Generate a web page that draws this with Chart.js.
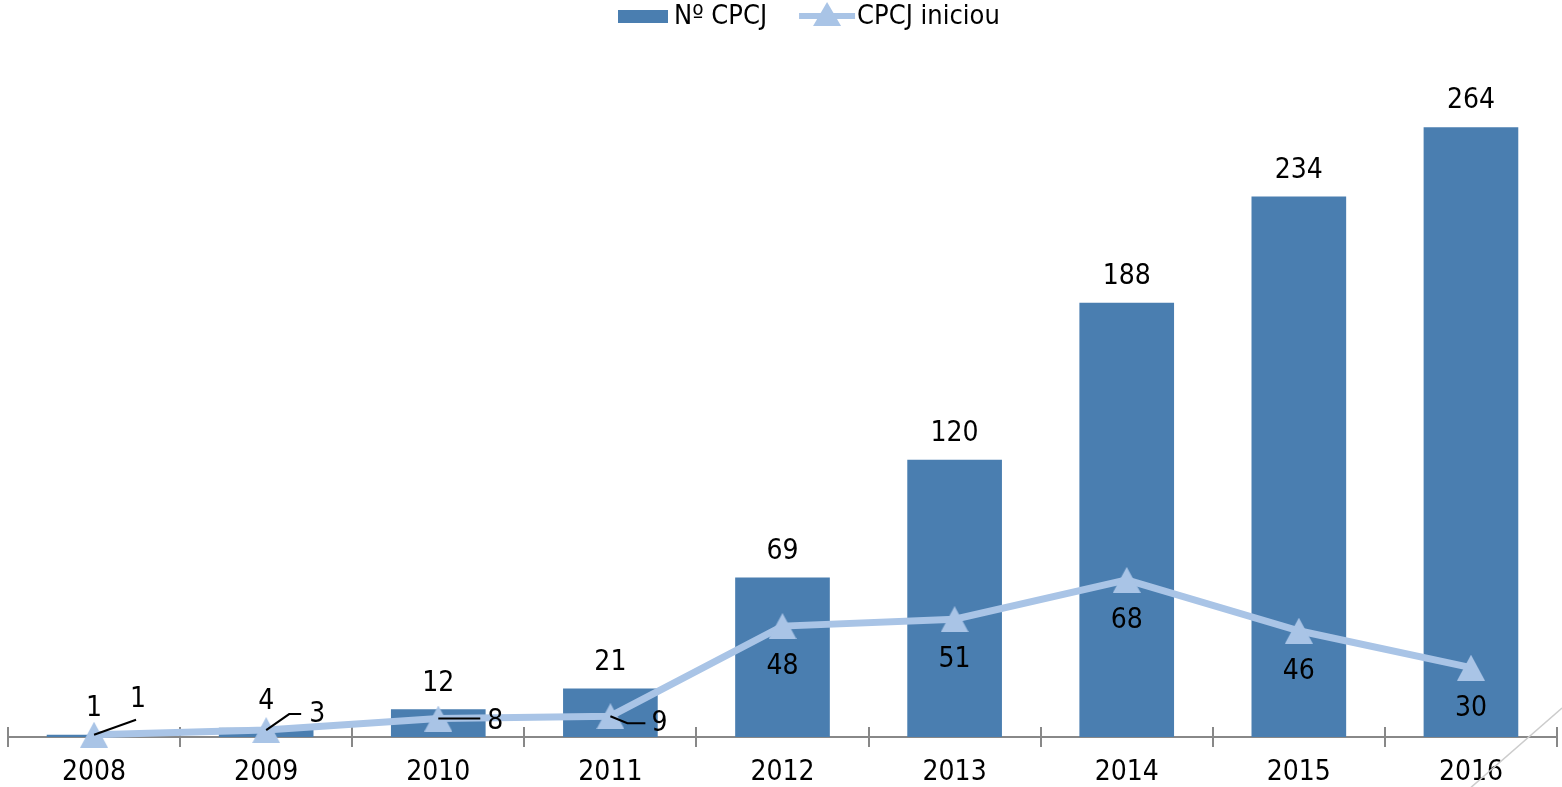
<!DOCTYPE html>
<html>
<head>
<meta charset="utf-8">
<script src="https://cdn.jsdelivr.net/npm/chart.js@4"></script>
<style>
  body { margin: 0; background: #fff; }
  #wrap { width: 1562px; height: 787px; }
</style>
</head>
<body>
<div id="wrap"><canvas id="cpcjChart" width="1562" height="787"></canvas></div>
<script>
var FONT = "'DejaVu Sans Condensed', 'Liberation Sans', sans-serif";

var years = ['2008', '2009', '2010', '2011', '2012', '2013', '2014', '2015', '2016'];
var numCPCJ = [1, 4, 12, 21, 69, 120, 188, 234, 264];
var cpcjIniciou = [1, 3, 8, 9, 48, 51, 68, 46, 30];

var barColor = '#4a7eb0';
var lineColor = '#a9c4e6';

// leader lines for the small line labels (offsets from the point)
var leaders = [
    { path: [[0, 0], [42, -15]], text: [44, -35] },
    { path: [[0, 0], [23, -16], [35, -16]], text: [51, -15] },
    { path: [[0, 0], [42, 0]], text: [57, 3] },
    { path: [[0, 0], [17, 7], [35, 7]], text: [49, 8] }
];

// triangle marker, a bit taller than the built-in one
function makeTriangle(w, h, color) {
    var c = document.createElement('canvas');
    c.width = w;
    c.height = h;
    var g = c.getContext('2d');
    g.fillStyle = color;
    g.beginPath();
    g.moveTo(w / 2, 0);
    g.lineTo(w, h);
    g.lineTo(0, h);
    g.closePath();
    g.fill();
    return c;
}
var triangle = makeTriangle(28, 26, lineColor);

var axisPlugin = {
    id: 'axisPlugin',
    beforeDatasetsDraw: function(chart) {
        var ctx = chart.ctx;
        var area = chart.chartArea;
        var x = chart.scales.x;
        var half = (x.getPixelForValue(1) - x.getPixelForValue(0)) / 2;
        ctx.save();
        ctx.strokeStyle = '#888888';
        ctx.lineWidth = 2;
        ctx.beginPath();
        ctx.moveTo(area.left, area.bottom);
        ctx.lineTo(area.right, area.bottom);
        for (var i = 0; i <= years.length; i++) {
            var px = Math.round(x.getPixelForValue(0) - half + i * half * 2);
            ctx.moveTo(px, area.bottom - 10);
            ctx.lineTo(px, area.bottom + 10);
        }
        ctx.stroke();
        ctx.restore();
    },
    afterDatasetsDraw: function(chart) {
        var ctx = chart.ctx;
        ctx.save();
        ctx.font = '28px ' + FONT;
        ctx.fillStyle = '#000000';
        ctx.textAlign = 'center';
        ctx.textBaseline = 'middle';

        // bar labels
        chart.getDatasetMeta(1).data.forEach(function(bar, i) {
            ctx.fillText(numCPCJ[i], bar.x, bar.y - 26);
        });

        // line labels
        chart.getDatasetMeta(0).data.forEach(function(pt, i) {
            if (i < leaders.length) {
                var l = leaders[i];
                ctx.strokeStyle = '#000000';
                ctx.lineWidth = 2;
                ctx.beginPath();
                l.path.forEach(function(p, j) {
                    if (j === 0) ctx.moveTo(pt.x + p[0], pt.y + p[1]);
                    else ctx.lineTo(pt.x + p[0], pt.y + p[1]);
                });
                ctx.stroke();
                ctx.fillText(cpcjIniciou[i], pt.x + l.text[0], pt.y + l.text[1]);
            } else {
                ctx.fillText(cpcjIniciou[i], pt.x, pt.y + 41);
            }
        });

        // legend
        var y0 = 16;
        var lx = 618;
        ctx.fillStyle = barColor;
        ctx.fillRect(lx, y0 - 6, 50, 13);
        ctx.fillStyle = '#000000';
        ctx.textAlign = 'left';
        ctx.font = '27px ' + FONT;
        ctx.fillText('Nº CPCJ', lx + 56, y0 + 1);
        var t1 = ctx.measureText('Nº CPCJ').width;
        var sx = lx + 56 + t1 + 32;
        ctx.strokeStyle = lineColor;
        ctx.lineWidth = 6;
        ctx.beginPath();
        ctx.moveTo(sx, y0);
        ctx.lineTo(sx + 56, y0);
        ctx.stroke();
        ctx.fillStyle = lineColor;
        ctx.beginPath();
        ctx.moveTo(sx + 28, y0 - 14);
        ctx.lineTo(sx + 42, y0 + 10);
        ctx.lineTo(sx + 14, y0 + 10);
        ctx.closePath();
        ctx.fill();
        ctx.fillStyle = '#000000';
        ctx.fillText('CPCJ iniciou', sx + 58, y0 + 1);

        // faint diagonal stroke at bottom right
        ctx.strokeStyle = '#cccccc';
        ctx.lineWidth = 1.5;
        ctx.beginPath();
        ctx.moveTo(1468, 790);
        ctx.lineTo(1562, 708);
        ctx.stroke();
        ctx.restore();
    }
};

var chart = new Chart(document.getElementById('cpcjChart'), {
    data: {
        labels: years,
        datasets: [{
            type: 'line',
            label: 'CPCJ iniciou',
            data: cpcjIniciou,
            borderColor: lineColor,
            backgroundColor: lineColor,
            borderWidth: 7,
            pointStyle: triangle,
            pointRadius: 14,
            pointHoverRadius: 14,
            pointBorderWidth: 0,
            pointBackgroundColor: lineColor,
            tension: 0,
            clip: false,
            order: 0
        }, {
            type: 'bar',
            label: 'Nº CPCJ',
            data: numCPCJ,
            backgroundColor: barColor,
            barPercentage: 0.55,
            categoryPercentage: 1,
            order: 1
        }]
    },
    options: {
        responsive: false,
        animation: false,
        layout: { autoPadding: false, padding: { top: 44, left: 8, right: 5, bottom: 0 } },
        plugins: {
            legend: { display: false },
            tooltip: { enabled: false }
        },
        scales: {
            x: {
                offset: true,
                grid: { display: false },
                border: { display: false },
                ticks: {
                    color: '#000000',
                    font: { size: 28, family: FONT },
                    padding: 11
                },
                afterFit: function(scale) {
                    scale.height = 50;
                    scale.paddingLeft = 0;
                    scale.paddingRight = 0;
                }
            },
            y: {
                display: false,
                min: 0,
                max: 300
            }
        }
    },
    plugins: [axisPlugin]
});
</script>
</body>
</html>
